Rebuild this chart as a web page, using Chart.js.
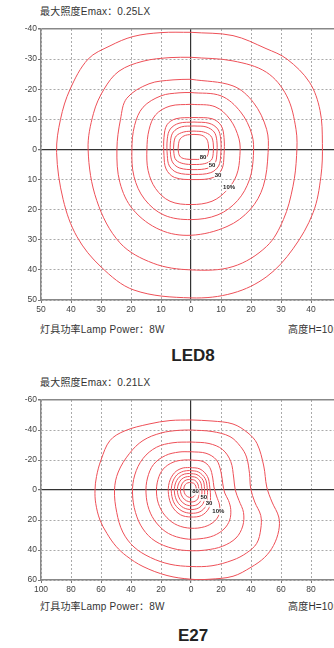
<!DOCTYPE html>
<html>
<head>
<meta charset="utf-8">
<script src="https://cdn.jsdelivr.net/npm/chart.js@4"></script>
<style>
html, body { margin: 0; padding: 0; width: 334px; height: 648px; overflow: hidden; background: #fff; }
body { position: relative; font-family: "Liberation Sans", Arial, "Noto Sans CJK SC", sans-serif; color: #333; }
.box { position: absolute; left: 0; }
.txt { position: absolute; font-size: 10px; line-height: 12px; white-space: nowrap; color: #333; letter-spacing: 0.2px; }
.name { position: absolute; text-align: center; font-size: 17px; font-weight: bold; color: #222; line-height: 20px; }
</style>
</head>
<body>

<div class="txt" style="left:40px;top:6px">最大照度Emax：0.25LX</div>
<div class="box" style="top:0;width:352px;height:320px"><canvas id="chartLed8"></canvas></div>
<div class="txt" style="left:40px;top:324px">灯具功率Lamp Power：8W</div>
<div class="txt" style="left:288px;top:324px">高度H=10m</div>
<div class="name" style="left:26px;width:334px;top:346px;">LED8</div>

<div class="txt" style="left:40px;top:377px">最大照度Emax：0.21LX</div>
<div class="box" style="top:380px;width:352px;height:220px"><canvas id="chartE27"></canvas></div>
<div class="txt" style="left:40px;top:601px">灯具功率Lamp Power：8W</div>
<div class="txt" style="left:288px;top:601px">高度H=10m</div>
<div class="name" style="left:26px;width:334px;top:626px;">E27</div>

<script>
// LED8 isolux loops, [x, y] in metres (y grows downwards)
var led8Loop1 = [[0,-38.9],[14,-37.8],[25,-33.5],[32,-30],[39.5,-22.3],[43,-13],[43.8,-2],[43.3,9],[40.7,21],[34,33],[25.3,42.2],[14,47.7],[0,49.3],[-19,46.7],[-30,39],[-38,29],[-42.6,16.7],[-44.8,1],[-43.5,-10],[-40.3,-20],[-34.3,-30],[-27,-34.4],[-19.3,-37.5],[-10,-38.8],[0,-38.9]];
var led8Loop2 = [[0,-30.6],[14,-29.4],[25.2,-25.6],[31.9,-17.8],[35,-6.7],[35.2,2],[34,12.2],[30.8,23.3],[25.2,32.2],[14,38.9],[0,40],[-12.6,37.8],[-23.7,31],[-31.4,17],[-34.3,0],[-32.5,-12],[-29,-20],[-24,-26],[-16,-29.3],[-7,-30.5],[0,-30.6]];
var led8Loop3 = [[0,-23.3],[14,-21.1],[20.8,-15.6],[25.2,-6.7],[25.7,1],[24.1,12.2],[19.7,20],[12,25.6],[0,28.5],[-10.3,26.7],[-19.3,20],[-23.7,11],[-24.7,0],[-23.5,-10],[-21.4,-17],[-14,-21.8],[-6,-23.1],[0,-23.3]];
var led8Loop4 = [[0,-18.9],[10,-17.8],[16.5,-12.5],[20.3,-5],[20.8,2],[19.5,10],[15.5,17],[9,21.7],[0,23.3],[-9,21.8],[-15.5,16.5],[-19,9],[-19.7,0],[-18.8,-8],[-16,-14],[-10,-17.8],[-4,-18.8],[0,-18.9]];
var led8Loop5 = [[0,-15],[8,-14.2],[13,-10],[16,-3.5],[16.3,2],[15.2,8.5],[12,13.5],[7,17.2],[0,18.3],[-7,17.2],[-11.8,13],[-14.3,7],[-14.7,0],[-14,-6.5],[-11.8,-11.5],[-7,-14.4],[0,-15]];
var led8Loop6 = [[1,-10.6],[7,-10.2],[10,-8],[11,-4],[11,2],[10.3,6.5],[7.5,9.3],[1,10],[-5.5,9.3],[-8.3,6.5],[-9,2],[-9,-4],[-8,-8.2],[-5,-10.2],[1,-10.6]];
var led8Loop7 = [[1,-9.1],[6,-8.7],[8.9,-6.8],[9.9,-3.5],[9.9,2],[9.2,5.5],[6.6,7.7],[1,8.3],[-4.6,7.7],[-7.2,5.5],[-7.9,2],[-7.9,-3.5],[-6.9,-6.8],[-4,-8.7],[1,-9.1]];
var led8Loop8 = [[1,-7.8],[5,-7.5],[7.7,-5.8],[8.6,-3],[8.6,1.8],[8,4.5],[5.7,6.2],[1,6.7],[-3.7,6.2],[-6,4.5],[-6.8,1.8],[-6.8,-3],[-5.9,-5.8],[-3.2,-7.5],[1,-7.8]];
var led8Loop9 = [[1,-6.1],[4.2,-5.8],[6.6,-4.5],[7.4,-2.2],[7.4,1.3],[6.8,3.5],[4.6,4.7],[1,5],[-2.6,4.7],[-5,3.5],[-5.7,1.3],[-5.7,-2.2],[-4.9,-4.5],[-2.4,-5.8],[1,-6.1]];
var led8Loop10 = [[1,-5],[3.6,-4.7],[5.2,-3.5],[5.8,-1.5],[5.8,0.9],[5.2,2.5],[3.5,3.2],[1,3.3],[-1.6,3.2],[-3.5,2.5],[-4.2,0.9],[-4.2,-1.5],[-3.6,-3.5],[-1.8,-4.7],[1,-5]];
var led8LabelText = ['80', '50', '30', '10%'];
var led8LabelX = [4, 7, 9, 12.7];
var led8LabelY = [2.7, 5.3, 8.7, 12.7];

// E27 isolux loops
var e27Loop1 = [[0,-46.7],[14,-46],[28,-44],[38,-38],[44,-31],[48.5,-16],[50.5,-2],[54,8],[58.5,18],[58.5,27],[55,37],[49,45],[40,51.5],[28,57.5],[12,59.5],[0,59.5],[-16,57],[-32,51],[-43,44],[-50,37.5],[-56,29],[-60.7,20],[-63.5,9],[-64,0],[-63,-9],[-60,-20],[-54,-33],[-44,-39.5],[-28,-44],[-14,-46.3],[0,-46.7]];
var e27Loop2 = [[0,-40],[14,-39],[26,-35.6],[33,-29],[37,-22],[39,-11],[39.8,-1],[42.5,8],[46.5,17],[46.5,26],[43.8,35.6],[37,42],[28,46.7],[14,50.5],[0,51],[-14,49.5],[-27,45],[-38,38],[-45.5,28],[-49.5,15],[-51,0],[-48.5,-12],[-41,-24.4],[-32,-33],[-20,-38],[-8,-39.8],[0,-40]];
var e27Loop3 = [[0,-32],[12,-31],[21,-27],[26.5,-19],[28.5,-8],[29.5,0],[32,7],[35,15],[34.5,24],[30,32],[21,37.5],[10,40],[0,40.5],[-12,39],[-24,34],[-32,26],[-37,15],[-39,2],[-37.5,-10],[-32,-21],[-23,-28.5],[-12,-31.5],[0,-32]];
var e27Loop4 = [[0,-25.5],[10,-24.5],[17,-20],[20,-12],[21.2,-4],[22.5,2],[25,7],[26.5,13],[25.8,20],[22,26],[15,30.5],[6,32.5],[-4,32.5],[-15,29],[-23,22],[-28,13],[-30,2],[-29,-8],[-25,-17],[-17,-23],[-8,-25.3],[0,-25.5]];
var e27Loop5 = [[0,-20],[8,-19],[12.5,-15],[14.5,-8],[15.3,-2],[17,4],[19,10],[18.8,16],[15.5,21],[9,24.5],[0,25.5],[-9,23.5],[-16,18.5],[-21,11],[-23,2],[-22,-7],[-18.5,-14],[-12,-18.5],[-5,-20],[0,-20]];
var e27Loop6 = [[-1,-15],[6,-14],[11,-9],[12.5,-2],[13,5],[12,12],[7,17],[0,18],[-7,16.5],[-12.5,11],[-15,3],[-14.5,-5],[-11,-11.5],[-6,-14.5],[-1,-15]];
var e27Loop7 = [[-1,-13],[5,-12],[9.5,-7.5],[10.8,-1.5],[11,4.5],[10,10.5],[6,14.5],[0,15.5],[-6,14],[-10.8,9.5],[-13,2.5],[-12.5,-4.5],[-9.5,-10],[-5,-12.5],[-1,-13]];
var e27Loop8 = [[-1,-11],[4,-10.2],[8,-6.5],[9,-1],[9,4],[8.2,8.8],[5,12],[0,13],[-5,11.8],[-9,8],[-11,2],[-10.5,-4],[-8,-8.5],[-4.5,-10.6],[-1,-11]];
var e27Loop9 = [[-1,-9],[3.5,-8.3],[6.3,-5.3],[7.2,-1],[7.2,3.5],[6.5,7.3],[4,9.8],[0,10.5],[-4,9.5],[-7.2,6.5],[-9,1.5],[-8.6,-3.3],[-6.5,-7],[-3.5,-8.7],[-1,-9]];
var e27Loop10 = [[-1,-7],[2.5,-6.5],[4.6,-4],[5.2,-0.5],[5.2,3],[4.6,5.8],[2.7,7.5],[0,8],[-3,7.2],[-5.5,5],[-7,1.2],[-6.6,-2.5],[-5,-5.5],[-2.8,-6.8],[-1,-7]];
var e27Loop11 = [[-1,-5],[1.8,-4.5],[3.2,-2.6],[3.5,0],[3.2,2.5],[2,4.3],[0,5],[-2.2,4.5],[-4,2.8],[-4.8,0],[-4.4,-2.6],[-3,-4.4],[-1,-5]];
var e27LabelText = ['80', '50', '30', '10%'];
var e27LabelX = [3, 8.5, 12, 18.2];
var e27LabelY = [1.2, 5.2, 9.2, 14.4];

var lineRed = '#ee5058';

function toDataset(loop) {
    var pts = [];
    for (var i = 0; i < loop.length; i++) {
        pts.push({x: loop[i][0], y: loop[i][1]});
    }
    return {
        data: pts,
        showLine: true,
        borderColor: lineRed,
        borderWidth: 1,
        pointRadius: 0,
        tension: 0.35,
        fill: false
    };
}

var levelLabels = {
    id: 'levelLabels',
    afterDatasetsDraw: function(chart, args, opts) {
        var ctx = chart.ctx;
        ctx.save();
        ctx.font = 'bold 6px "Liberation Sans", Arial, sans-serif';
        ctx.textAlign = 'center';
        ctx.textBaseline = 'middle';
        for (var i = 0; i < opts.text.length; i++) {
            var px = chart.scales.x.getPixelForValue(opts.xs[i]);
            var py = chart.scales.y.getPixelForValue(opts.ys[i]);
            var w = ctx.measureText(opts.text[i]).width;
            ctx.fillStyle = 'rgba(255,255,255,0.85)';
            ctx.fillRect(px - w / 2 - 0.5, py - 3.5, w + 1, 7);
            ctx.fillStyle = '#222';
            ctx.fillText(opts.text[i], px, py);
        }
        ctx.restore();
    }
};

function gridColor(ctx) {
    if (!ctx.tick) return '#888';
    if (ctx.tick.value === 0) return '#333';
    return '#aaa';
}

function makeChart(id, loops, xMax, yMin, yMax, step, padTop, labels) {
    var datasets = [];
    for (var i = 0; i < loops.length; i++) {
        datasets.push(toDataset(loops[i]));
    }
    var tickFont = {size: 8.5, family: '"Liberation Sans", Arial, sans-serif'};
    return new Chart(document.getElementById(id), {
        type: 'scatter',
        data: {datasets: datasets},
        plugins: [levelLabels],
        options: {
            responsive: true,
            maintainAspectRatio: false,
            animation: false,
            layout: {padding: {top: padTop, right: 11, left: 0, bottom: 0}},
            plugins: {
                legend: {display: false},
                tooltip: {enabled: false},
                levelLabels: labels
            },
            scales: {
                x: {
                    type: 'linear',
                    min: -xMax,
                    max: xMax,
                    afterFit: function(scale) { scale.height = 20; },
                    ticks: {
                        stepSize: xMax / 5,
                        autoSkip: false,
                        maxRotation: 0,
                        padding: 2,
                        color: '#444',
                        font: tickFont,
                        callback: function(v) { return Math.abs(v); }
                    },
                    grid: {
                        color: gridColor,
                        lineWidth: function(ctx) { return ctx.tick && ctx.tick.value === 0 ? 1.2 : 1; },
                        tickLength: 3,
                        tickColor: '#777'
                    },
                    border: {
                        color: '#888',
                        width: 1.5,
                        dash: function(ctx) { return ctx.tick && ctx.tick.value !== 0 ? [2, 2] : []; }
                    }
                },
                y: {
                    type: 'linear',
                    reverse: true,
                    min: yMin,
                    max: yMax,
                    afterFit: function(scale) { scale.width = 41; },
                    ticks: {
                        stepSize: step,
                        autoSkip: false,
                        padding: 1,
                        color: '#444',
                        font: tickFont
                    },
                    grid: {
                        color: function(ctx) {
                            if (ctx.tick && ctx.tick.value === yMin) return '#888';
                            return gridColor(ctx);
                        },
                        lineWidth: function(ctx) {
                            if (ctx.tick && ctx.tick.value === yMin) return 1.5;
                            return ctx.tick && ctx.tick.value === 0 ? 1.2 : 1;
                        },
                        tickLength: 3,
                        tickColor: '#777'
                    },
                    border: {
                        color: '#888',
                        width: 1.5,
                        dash: function(ctx) {
                            if (!ctx.tick) return [];
                            if (ctx.tick.value === 0 || ctx.tick.value === yMin) return [];
                            return [2, 2];
                        }
                    }
                }
            }
        }
    });
}

makeChart('chartLed8',
    [led8Loop1, led8Loop2, led8Loop3, led8Loop4, led8Loop5, led8Loop6, led8Loop7, led8Loop8, led8Loop9, led8Loop10],
    50, -40, 50, 10, 29,
    {text: led8LabelText, xs: led8LabelX, ys: led8LabelY});

makeChart('chartE27',
    [e27Loop1, e27Loop2, e27Loop3, e27Loop4, e27Loop5, e27Loop6, e27Loop7, e27Loop8, e27Loop9, e27Loop10, e27Loop11],
    100, -60, 60, 20, 20,
    {text: e27LabelText, xs: e27LabelX, ys: e27LabelY});
</script>
</body>
</html>
